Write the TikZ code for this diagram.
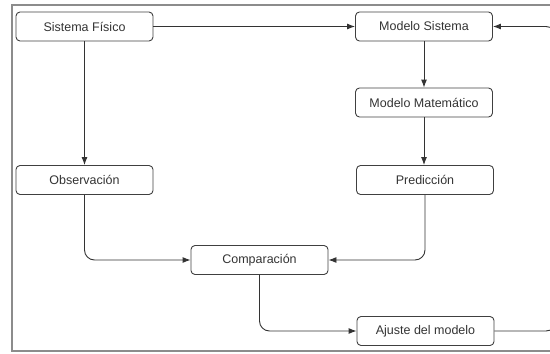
\documentclass[tikz,border=0pt]{standalone}
\usepackage{fontspec}
\setmainfont{Liberation Sans}
\usetikzlibrary{arrows.meta}

\begin{document}
\begin{tikzpicture}[x=1pt,y=-1pt,
  box/.style={draw=black!75, rounded corners=4pt, line width=0.9pt, minimum width=137pt,
    minimum height=29pt, inner sep=0pt, text=black!80, font=\fontsize{12.5}{14}\selectfont},
  arr/.style={draw=black!80, line width=0.9pt, -{Latex[length=8pt,width=6pt]}}]

\clip (0,0) rectangle (550,354);

% marco
\draw[black!45, line width=1.3pt] (560,5) -- (12,5) -- (12,351) -- (560,351);

\node[box] (sf) at (84.5,26.5) {Sistema F\'isico};
\node[box] (ms) at (424,26.5) {Modelo Sistema};
\node[box] (mm) at (424,102.5) {Modelo Matem\'atico};
\node[box] (obs) at (84.5,180) {Observaci\'on};
\node[box] (pred) at (425,180) {Predicci\'on};
\node[box] (comp) at (259.5,260) {Comparaci\'on};
\node[box] (aj) at (425.5,331) {Ajuste del modelo};

\coordinate (loopr) at (556,180);

\draw[arr] (sf) -- (ms);
\draw[arr] (sf) -- (obs);
\draw[arr] (ms) -- (mm);
\draw[arr] (mm) -- (mm |- pred.north);
\draw[arr, rounded corners=10pt] (obs) |- (comp);
\draw[arr, rounded corners=10pt] (pred) |- (comp);
\draw[arr, rounded corners=10pt] (comp) |- (aj);
\draw[arr, rounded corners=10pt] (aj) -| (loopr) |- (ms);

\end{tikzpicture}
\end{document}
